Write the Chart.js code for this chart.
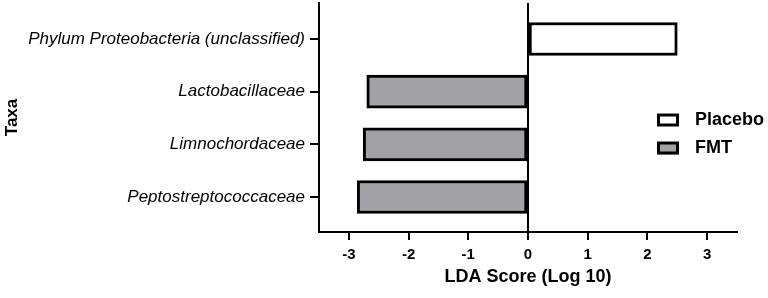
<!DOCTYPE html>
<html>
<head>
<meta charset="utf-8">
<script src="https://cdn.jsdelivr.net/npm/chart.js@4.4.1/dist/chart.umd.min.js"></script>
<style>
  html, body { margin: 0; padding: 0; background: #fff; }
</style>
</head>
<body>
<canvas id="ldaChart" width="768" height="298"></canvas>
<script>
// taxa, top to bottom
const taxa = ['Phylum Proteobacteria (unclassified)', 'Lactobacillaceae', 'Limnochordaceae', 'Peptostreptococcaceae'];
const placeboScores = [2.5, null, null, null];
const fmtScores = [null, -2.7, -2.76, -2.86];
const groups = ['Placebo', 'FMT'];
const groupColors = ['#ffffff', '#a2a1a6'];
const xTicks = [-3, -2, -1, 0, 1, 2, 3];

Chart.defaults.font.family = "'Liberation Sans', Arial, Helvetica, sans-serif";
Chart.defaults.color = '#000';

function toPoints(scores) {
    let pts = [];
    for (let i = 0; i < scores.length; i++) {
        if (scores[i] !== null) pts.push({ x: scores[i], y: i });
    }
    return pts;
}

// legend sits inside the plot, so draw it by hand
const sideLegend = {
    id: 'sideLegend',
    afterDraw(chart) {
        const ctx = chart.ctx;
        ctx.save();
        chart.data.datasets.forEach((ds, i) => {
            const cy = 120.5 + i * 28;
            ctx.fillStyle = ds.backgroundColor;
            ctx.fillRect(658, cy - 6, 21, 12);
            ctx.lineWidth = 3;
            ctx.strokeStyle = '#000';
            ctx.strokeRect(658.5, cy - 5.5, 19, 10);
            ctx.fillStyle = '#000';
            ctx.font = "bold 18px 'Liberation Sans', Arial, sans-serif";
            ctx.textBaseline = 'middle';
            ctx.textAlign = 'left';
            ctx.fillText(ds.label, 695, cy);
        });
        ctx.restore();
    }
};

const chart = new Chart(document.getElementById('ldaChart'), {
    type: 'bar',
    data: {
        datasets: [{
            label: groups[0],
            data: toPoints(placeboScores),
            backgroundColor: groupColors[0],
        }, {
            label: groups[1],
            data: toPoints(fmtScores),
            backgroundColor: groupColors[1],
        }]
    },
    options: {
        responsive: false,
        animation: false,
        indexAxis: 'y',
        layout: { padding: { top: 3, right: 31, bottom: 0, left: 0 } },
        datasets: {
            bar: {
                borderColor: '#000',
                borderWidth: 3,
                borderSkipped: false,
                barThickness: 33,
                grouped: false,
            }
        },
        plugins: {
            legend: { display: false },
            tooltip: { enabled: false },
        },
        scales: {
            x: {
                type: 'linear',
                min: -3.5,
                max: 3.5,
                bounds: 'data',
                afterBuildTicks: (scale) => { scale.ticks = xTicks.map(v => ({ value: v })); },
                afterFit: (scale) => {
                    scale.height = 66;
                    scale.paddingLeft = 0;
                    scale.paddingRight = 0;
                },
                border: { display: true, color: '#000', width: 2 },
                grid: {
                    color: (c) => (c.tick && c.tick.value === 0) ? '#000' : 'rgba(0,0,0,0)',
                    lineWidth: 2,
                    tickColor: '#000',
                    tickLength: 8,
                },
                ticks: {
                    font: { size: 15, weight: 'bold' },
                    padding: 6,
                    maxRotation: 0,
                },
                title: {
                    display: true,
                    text: 'LDA Score (Log 10)',
                    font: { size: 18, weight: 'bold' },
                    padding: { top: 0, bottom: 10 },
                }
            },
            y: {
                type: 'linear',
                reverse: true,
                offset: false,
                min: -0.684,
                max: 3.665,
                bounds: 'data',
                afterBuildTicks: (scale) => { scale.ticks = taxa.map((t, i) => ({ value: i })); },
                afterFit: (scale) => {
                    scale.width = 319;
                    scale.paddingTop = 0;
                    scale.paddingBottom = 0;
                },
                border: { display: true, color: '#000', width: 2 },
                grid: {
                    offset: false,
                    drawOnChartArea: false,
                    lineWidth: 2,
                    tickColor: '#000',
                    tickLength: 9,
                },
                ticks: {
                    font: { size: 17, style: 'italic', weight: 'normal' },
                    padding: 5,
                    callback: (v) => taxa[v] !== undefined ? taxa[v] : '',
                },
                title: {
                    display: true,
                    text: 'Taxa',
                    font: { size: 17, weight: 'bold' },
                    padding: { top: 2, bottom: 0 },
                }
            }
        }
    },
    plugins: [sideLegend]
});
</script>
</body>
</html>
